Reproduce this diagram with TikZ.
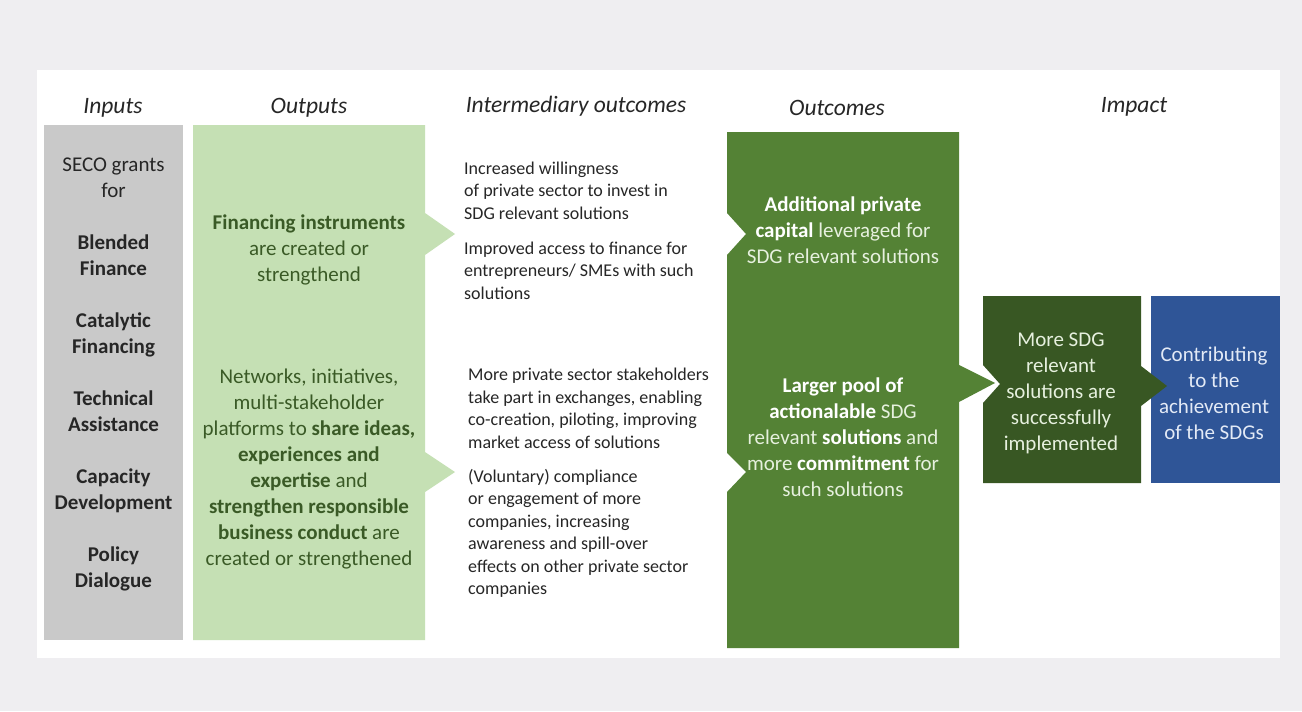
\documentclass[tikz,border=0pt]{standalone}
\usepackage{fontspec}
\setmainfont{Carlito}
\definecolor{pageGrey}{HTML}{EFEEF1}
\definecolor{inGrey}{HTML}{C9C9C9}
\definecolor{outGreen}{HTML}{C5E0B4}
\definecolor{outText}{HTML}{3A5A26}
\definecolor{midGreen}{HTML}{548235}
\definecolor{darkGreen}{HTML}{385723}
\definecolor{impBlue}{HTML}{2F5597}
\definecolor{bodyText}{HTML}{262626}
\definecolor{paleText}{HTML}{E6F0DE}
\definecolor{paleBlue}{HTML}{E3EAF6}
\begin{document}
\begin{tikzpicture}[x=1bp,y=-1bp,
  header/.style={font=\fontsize{23.5bp}{28bp}\selectfont\itshape, text=bodyText, inner sep=0pt},
  boxtext/.style={font=\fontsize{21bp}{26bp}\selectfont, align=center, inner sep=0pt},
  smalltext/.style={font=\fontsize{18bp}{22.5bp}\selectfont, align=left, inner sep=0pt, anchor=west, text=bodyText}]
% page and panel
\fill[pageGrey] (0,0) rectangle (1302,711);
\useasboundingbox (0,0) rectangle (1302,711);
\fill[white] (37,70) rectangle (1280,658);

% column headings
\node[header] (hIn)  at (113,107.5) {Inputs};
\node[header] (hOut) at (309,107.5) {Outputs};
\node[header] (hMid) at (576,106.5) {Intermediary outcomes};
\node[header] (hOc)  at (837,108) {Outcomes};
\node[header] (hImp) at (1134,106.5) {Impact};

% inputs column
\fill[inGrey] (44,125) rectangle (183,640);
\node[boxtext, text=bodyText] (inputs) at (113.5,374) {SECO grants\\for\\[26bp]
  \textbf{Blended}\\\textbf{Finance}\\[26bp]
  \textbf{Catalytic}\\\textbf{Financing}\\[26bp]
  \textbf{Technical}\\\textbf{Assistance}\\[26bp]
  \textbf{Capacity}\\\textbf{Development}\\[26bp]
  \textbf{Policy}\\\textbf{Dialogue}};

% outputs column with two pointers
\fill[outGreen] (193,125) -- (425,125) -- (425,213) -- (455,234) -- (425,255)
  -- (425,452) -- (455,472) -- (425,492) -- (425,640) -- (193,640) -- cycle;
\node[boxtext, text=outText] (outA) at (309,250) {\textbf{Financing instruments}\\are created or\\strengthend};
\node[boxtext, text=outText] (outB) at (309,469) {Networks, initiatives,\\multi-stakeholder\\platforms to \textbf{share ideas,}\\\textbf{experiences and}\\\textbf{expertise} and\\\textbf{strengthen responsible}\\\textbf{business conduct} are\\created or strengthened};

% intermediary outcomes
\node[smalltext] (midA) at (464,230.5) {Increased willingness\\of private sector to invest in\\SDG relevant solutions\\[12.5bp]Improved access to finance for\\entrepreneurs/ SMEs with such\\solutions};
\node[smalltext] (midB) at (468,483) {More private sector stakeholders\\take part in exchanges, enabling\\co-creation, piloting, improving\\market access of solutions\\[11.5bp](Voluntary) compliance\\or engagement of more\\companies, increasing\\awareness and spill-over\\effects on other private sector\\companies};

% outcomes column with notches and pointer
\fill[midGreen] (727,132) -- (959,132) -- (959,365) -- (995,383) -- (959,402)
  -- (959,648) -- (727,648) -- (727,492) -- (746,472) -- (727,453)
  -- (727,255) -- (746,234) -- (727,213) -- cycle;
\node[boxtext, text=paleText] (ocA) at (843,230) {\textcolor{white}{\textbf{Additional private}}\\\textcolor{white}{\textbf{capital}} leveraged for\\SDG relevant solutions};
\node[boxtext, text=paleText] (ocB) at (843,437) {\textcolor{white}{\textbf{Larger pool of}}\\\textcolor{white}{\textbf{actionalable}} SDG\\relevant \textcolor{white}{\textbf{solutions}} and\\more \textcolor{white}{\textbf{commitment}} for\\such solutions};

% impact
\fill[impBlue] (1151,296) rectangle (1280,483);
\fill[darkGreen] (983,296) -- (1141,296) -- (1141,366) -- (1167,386) -- (1141,406)
  -- (1141,483) -- (983,483) -- (983,403) -- (1000,384) -- (983,365) -- cycle;
\node[boxtext, text=paleText] (impA) at (1061,393) {More SDG\\relevant\\solutions are\\successfully\\implemented};
\node[boxtext, text=paleBlue] (impB) at (1214,393) {Contributing\\to the\\achievement\\of the SDGs};
\end{tikzpicture}
\end{document}
